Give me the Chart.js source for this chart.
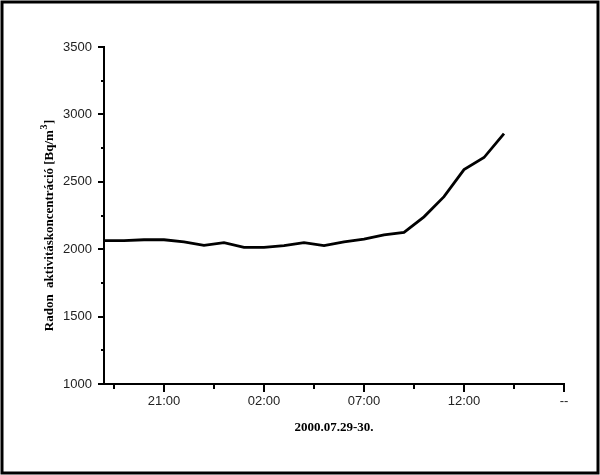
<!DOCTYPE html>
<html lang="hu">
<head>
<meta charset="utf-8">
<title>Radon aktivitáskoncentráció</title>
<style>
  body { margin: 0; background: #fff; }
</style>
</head>
<body>
<canvas id="radonChart" width="600" height="475"></canvas>

<script src="https://cdn.jsdelivr.net/npm/chart.js"></script>
<script>
  // hours counted from 2000.07.29 00:00 (values over 24 are on the 30th)
  var hours = [18, 19, 20, 21, 22, 23, 24, 25, 26, 27, 28, 29, 30, 31, 32, 33, 34, 35, 36, 37, 38];
  var radon = [2063, 2063, 2070, 2070, 2055, 2028, 2048, 2013, 2013, 2026, 2048, 2026, 2055, 2074, 2107, 2125, 2240, 2390, 2590, 2680, 2858];

  var xTicks = [18.5, 21, 23.5, 26, 28.5, 31, 33.5, 36, 38.5, 41];
  var xMajor = [21, 26, 31, 36, 41];
  var xLabels = ["21:00", "02:00", "07:00", "12:00", "--"];

  var yTicks = [1000, 1250, 1500, 1750, 2000, 2250, 2500, 2750, 3000, 3250, 3500];
  var yMajor = [1000, 1500, 2000, 2500, 3000, 3500];

  // y title is split so the "3" of m3 can be raised
  var yTitle = ["Radon  aktivitáskoncentráció [Bq/m", "3", "]"];
  var xTitle = "2000.07.29-30.";

  var serif = "'Liberation Serif', 'Times New Roman', serif";

  // tick marks (long ones for labelled ticks), axis titles and the outer frame
  var decorations = {
    id: "decorations",
    afterDraw: function (chart) {
      var ctx = chart.ctx;
      var xs = chart.scales.x, ys = chart.scales.y;
      ctx.save();
      ctx.strokeStyle = "#000";
      ctx.lineWidth = 2;
      ctx.beginPath();
      xTicks.forEach(function (v) {
        var px = Math.round(xs.getPixelForValue(v));
        var len = xMajor.indexOf(v) >= 0 ? 8 : 5;
        ctx.moveTo(px, xs.top);
        ctx.lineTo(px, xs.top + len);
      });
      yTicks.forEach(function (v) {
        var py = Math.round(ys.getPixelForValue(v));
        var len = yMajor.indexOf(v) >= 0 ? 6 : 3;
        ctx.moveTo(ys.right, py);
        ctx.lineTo(ys.right - len, py);
      });
      ctx.stroke();

      ctx.fillStyle = "#000";
      var big = "bold 13px " + serif, small = "bold 10px " + serif;
      ctx.font = big;
      ctx.textAlign = "center";
      ctx.textBaseline = "middle";
      ctx.fillText(xTitle, 334, 428);

      // rotated y title, drawn in three pieces
      ctx.font = big;
      var w0 = ctx.measureText(yTitle[0]).width;
      var w2 = ctx.measureText(yTitle[2]).width;
      ctx.font = small;
      var w1 = ctx.measureText(yTitle[1]).width;
      var x0 = -(w0 + w1 + w2) / 2;
      ctx.translate(48, 226);
      ctx.rotate(-Math.PI / 2);
      ctx.textAlign = "left";
      ctx.textBaseline = "alphabetic";
      ctx.font = big;
      ctx.fillText(yTitle[0], x0, 5);
      ctx.font = small;
      ctx.fillText(yTitle[1], x0 + w0 + 0.5, -1);
      ctx.font = big;
      ctx.fillText(yTitle[2], x0 + w0 + w1 + 1, 5);
      ctx.restore();

      ctx.save();
      ctx.strokeStyle = "#000";
      ctx.lineWidth = 3;
      ctx.strokeRect(2, 2, 596, 471);
      ctx.restore();
    }
  };

  var ctx = document.getElementById("radonChart");
  new Chart(ctx, {
    type: "line",
    data: {
      datasets: [
        {
          data: hours.map(function (h, i) { return { x: h, y: radon[i] }; }),
          borderColor: "#000",
          borderWidth: 2.8,
          pointRadius: 0,
          tension: 0,
          fill: false,
        },
      ],
    },
    options: {
      responsive: false,
      animation: false,
      layout: { padding: { left: 4, right: 36, top: 47, bottom: 4 } },
      plugins: {
        legend: { display: false },
        tooltip: { enabled: false },
      },
      scales: {
        x: {
          type: "linear",
          min: 18,
          max: 41,
          grid: { display: false, drawTicks: false },
          border: { display: true, color: "#000", width: 2 },
          afterBuildTicks: function (scale) {
            scale.ticks = xTicks.map(function (v) { return { value: v }; });
          },
          afterFit: function (scale) { scale.height = 87; },
          ticks: {
            autoSkip: false,
            maxRotation: 0,
            padding: 10,
            color: "#222",
            font: { family: "'Liberation Sans', Arial, sans-serif", size: 13 },
            callback: function (v) {
              var i = xMajor.indexOf(v);
              return i >= 0 ? xLabels[i] : "";
            },
          },
        },
        y: {
          min: 1000,
          max: 3500,
          grid: { display: false, drawTicks: false },
          border: { display: true, color: "#000", width: 2 },
          afterBuildTicks: function (scale) {
            scale.ticks = yTicks.map(function (v) { return { value: v }; });
          },
          afterFit: function (scale) { scale.width = 100; },
          ticks: {
            autoSkip: false,
            padding: 12,
            color: "#222",
            font: { family: "'Liberation Sans', Arial, sans-serif", size: 13 },
            callback: function (v) {
              return yMajor.indexOf(v) >= 0 ? String(v) : "";
            },
          },
        },
      },
    },
    plugins: [decorations],
  });
</script>
</body>
</html>
